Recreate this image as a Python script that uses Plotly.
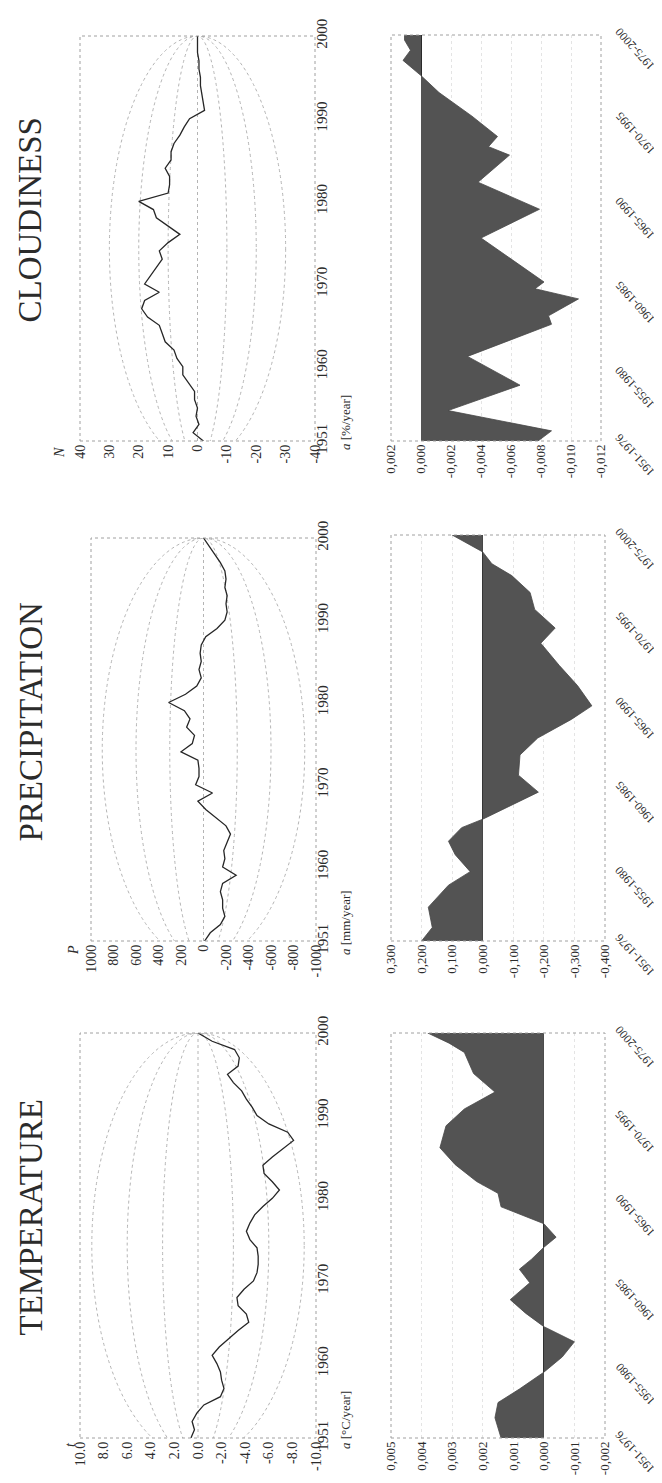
import plotly.graph_objects as go

W, H = 662, 1483

# ---------------- data ----------------
YEARS = list(range(1951, 2001))

TEMP_CUM = [0.6, 0.3, 0.5, 0.1, -0.5, -1.9, -2.2, -2.0, -1.9, -1.6,
            -1.2, -1.8, -2.6, -3.4, -4.3, -4.1, -3.4, -3.3, -3.9, -4.7,
            -5.0, -5.1, -5.1, -5.0, -4.4, -4.1, -4.4, -4.8, -5.5, -6.3,
            -6.9, -6.3, -5.6, -5.5, -6.3, -7.2, -8.1, -7.6, -6.0, -5.0,
            -4.6, -4.1, -3.7, -3.0, -2.5, -3.4, -3.5, -3.1, -1.2, 0.0]

PREC_CUM = [-10, -60, -150, -190, -170, -170, -150, -170, -290, -170,
            -190, -180, -210, -240, -200, -110, -20, 50, -80, 70,
            40, 40, 50, 200, 100, 80, 150, 120, 170, 310,
            160, 60, 20, 40, 20, 30, 20, -20, -120, -190,
            -210, -200, -210, -190, -200, -190, -150, -100, -50, 0]

CLOUD_CUM = [-2, 1.5, -0.5, 0.5, 0, 1, 1, 3, 5, 5,
             7, 8, 11, 12, 13, 17, 19, 18, 13, 18,
             16, 14, 12, 13, 10, 6, 10, 14, 15, 20,
             10, 9.5, 9.5, 11, 9, 9, 8, 6, 4.5, 2.7,
             -2.4, -2, -1.5, -1, -1, -0.5, -0.5, 0, 0, 0]

TEMP_TREND_X = [1951.0, 1952.2, 1953.1, 1953.9, 1954.9, 1955.8, 1956.7, 1957.6,
                1958.4, 1959.2, 1960.2, 1961.0, 1961.6, 1962.3, 1962.9, 1963.7,
                1964.7, 1965.5, 1966.2, 1967.2, 1968.2, 1969.5, 1970.5, 1971.5,
                1972.6, 1973.85, 1974.4, 1975.0]
TEMP_TREND = [0.0014, 0.0016, 0.0015, 0.0008, 0.0, -0.0006, -0.0010, 0.0,
              0.0006, 0.0011, 0.00046, 0.0008, 0.0004, 0.0, -0.0004, 0.0,
              0.0014, 0.0015, 0.0022, 0.0029, 0.0034, 0.0032, 0.0026, 0.0016,
              0.0023, 0.0026, 0.0031, 0.0038]

PREC_TREND_X = [1951.0, 1951.8, 1953.0, 1954.3, 1955.1, 1956.1, 1956.9, 1957.7,
                1958.2, 1959.0, 1959.8, 1960.8, 1962.0, 1963.0, 1964.1, 1964.9,
                1966.1, 1967.3, 1968.6, 1969.5, 1970.6, 1971.6, 1972.6, 1973.3,
                1974.0, 1975.0]
PREC_TREND = [0.20, 0.165, 0.178, 0.112, 0.041, 0.09, 0.112, 0.069,
              0.0, -0.09, -0.182, -0.117, -0.122, -0.18, -0.29, -0.357,
              -0.31, -0.25, -0.19, -0.237, -0.17, -0.155, -0.095, -0.03,
              0.0, 0.10]

CLOUD_TREND_X = [1951.0, 1951.6, 1952.8, 1954.3, 1956.0, 1957.9, 1958.4, 1959.4,
                 1960.0, 1960.4, 1963.0, 1964.7, 1966.3, 1967.9, 1968.4, 1969.0,
                 1970.2, 1971.6, 1972.6, 1973.5, 1974.1, 1974.7, 1975.0]
CLOUD_TREND = [-0.0078, -0.0087, -0.0018, -0.0066, -0.0031, -0.0087, -0.0085, -0.0105,
               -0.0076, -0.0082, -0.0040, -0.0079, -0.0038, -0.0059, -0.0045, -0.0051,
               -0.0034, -0.0012, 0.0, 0.0012, 0.0007, 0.0011, 0.0011]

ELL_T = [3, 6, 9]
ELL_P = [300, 600, 900]
ELL_N = [10, 20, 30]

YEAR_TICKS = [1951, 1960, 1970, 1980, 1990, 2000]
PERIOD_TICKS = [1951, 1955, 1960, 1965, 1970, 1975]
PERIOD_LABELS = ["1951-1976", "1955-1980", "1960-1985", "1965-1990", "1970-1995", "1975-2000"]

T_TICKS = [10, 8, 6, 4, 2, 0, -2, -4, -6, -8, -10]
T_LABELS = ["10.0", "8.0", "6.0", "4.0", "2.0", "0.0", "-2.0", "-4.0", "-6.0", "-8.0", "-10.0"]
P_TICKS = [1000, 800, 600, 400, 200, 0, -200, -400, -600, -800, -1000]
P_LABELS = ["1000", "800", "600", "400", "200", "0", "-200", "-400", "-600", "-800", "-1000"]
N_TICKS = [40, 30, 20, 10, 0, -10, -20, -30, -40]
N_LABELS = ["40", "30", "20", "10", "0", "-10", "-20", "-30", "-40"]

AT_TICKS = [0.005, 0.004, 0.003, 0.002, 0.001, 0.0, -0.001, -0.002]
AT_LABELS = ["0,005", "0,004", "0,003", "0,002", "0,001", "0,000", "-0,001", "-0,002"]
AP_TICKS = [0.3, 0.2, 0.1, 0.0, -0.1, -0.2, -0.3, -0.4]
AP_LABELS = ["0,300", "0,200", "0,100", "0,000", "-0,100", "-0,200", "-0,300", "-0,400"]
AN_TICKS = [0.002, 0.0, -0.002, -0.004, -0.006, -0.008, -0.010, -0.012]
AN_LABELS = ["0,002", "0,000", "-0,002", "-0,004", "-0,006", "-0,008", "-0,010", "-0,012"]

TITLES = ["CLOUDINESS", "PRECIPITATION", "TEMPERATURE"]

# ---------------- layout helpers ----------------
FONT = "Liberation Serif"
INK = "#2b2b2b"


def xd(x0, x1):
    return [x0 / W, x1 / W]


def yd(y0, y1):
    return [1 - y1 / H, 1 - y0 / H]


def py(y):
    return 1 - y / H


def ids(i):
    s = "" if i == 1 else str(i)
    return f"x{s}", f"y{s}", f"xaxis{s}", f"yaxis{s}"


fig = go.Figure()
layout = dict(
    width=W, height=H, margin=dict(l=0, r=0, t=0, b=0, autoexpand=False),
    paper_bgcolor="white", plot_bgcolor="white", showlegend=False,
    font=dict(family=FONT, color=INK),
)
shapes = []
annotations = []

# (frame box px, series, ellipses, ticks, labels, range, symbol, symbol centre px)
line_panels = [
    ((72, 307, 28, 433), CLOUD_CUM, ELL_N, N_TICKS, N_LABELS, 40, "N", (51, 445)),
    ((83, 308, 530, 933), PREC_CUM, ELL_P, P_TICKS, P_LABELS, 1000, "P", (65, 942)),
    ((72, 308, 1025, 1430), TEMP_CUM, ELL_T, T_TICKS, T_LABELS, 10, "t", (62, 1437)),
]
fill_panels = [
    ((383, 593, 27, 433), CLOUD_TREND_X, CLOUD_TREND, AN_TICKS, AN_LABELS, (0.002, -0.012), "<i>a</i> [%/year]"),
    ((383, 597, 527, 933), PREC_TREND_X, PREC_TREND, AP_TICKS, AP_LABELS, (0.3, -0.4), "<i>a</i> [mm/year]"),
    ((383, 597, 1025, 1430), TEMP_TREND_X, TEMP_TREND, AT_TICKS, AT_LABELS, (0.005, -0.002), "<i>a</i> [°C/year]"),
]

idx = 0
for k, (box, series, ells, ticks, labels, vmax, sym, spos) in enumerate(line_panels):
    idx += 1
    xa, ya, xk, yk = ids(idx)
    x0, x1, y0, y1 = box
    layout[xk] = dict(domain=xd(x0, x1), anchor=ya, range=[vmax, -vmax], automargin=False,
                      tickvals=ticks, ticktext=labels, tickangle=-90,
                      tickfont=dict(family=FONT, size=14, color=INK),
                      showgrid=False, zeroline=False, showline=False, ticks="")
    layout[yk] = dict(domain=yd(y0, y1), anchor=xa, range=[1951, 2000], side="right",
                      automargin=False, ticklabelstandoff=-4,
                      tickvals=YEAR_TICKS, ticktext=[str(v) for v in YEAR_TICKS], tickangle=-90,
                      tickfont=dict(family=FONT, size=15, color=INK),
                      showgrid=False, zeroline=False, showline=False, ticks="")
    shapes.append(dict(type="rect", xref=f"{xa} domain", yref=f"{ya} domain",
                       x0=0, x1=1, y0=0, y1=1, line=dict(color="#a0a0a0", width=1, dash="dot")))
    for a in ells:
        shapes.append(dict(type="circle", xref=xa, yref=ya, x0=-a, x1=a, y0=1948.5, y1=2000,
                           line=dict(color="#b4b4b4", width=1, dash="dot"), layer="below"))
    shapes.append(dict(type="line", xref=xa, yref=f"{ya} domain", x0=0, x1=0, y0=0, y1=1,
                       line=dict(color="#b4b4b4", width=1, dash="dot"), layer="below"))
    fig.add_trace(go.Scatter(x=series, y=YEARS, mode="lines", xaxis=xa, yaxis=ya,
                             line=dict(color="#262626", width=1.3), hoverinfo="skip"))
    annotations.append(dict(text=TITLES[k], xref="paper", yref="paper", x=22 / W,
                            y=py((y0 + y1) / 2 - 18), showarrow=False, textangle=-90,
                            font=dict(family=FONT, size=33, color=INK),
                            xanchor="center", yanchor="middle"))
    annotations.append(dict(text=f"<i>{sym}</i>", xref="paper", yref="paper", x=spos[0] / W,
                            y=py(spos[1]), showarrow=False, textangle=-90,
                            font=dict(family=FONT, size=14, color=INK),
                            xanchor="center", yanchor="middle"))

for k, (box, xs, vals, ticks, labels, rng, unit) in enumerate(fill_panels):
    idx += 1
    xa, ya, xk, yk = ids(idx)
    x0, x1, y0, y1 = box
    layout[xk] = dict(domain=xd(x0, x1), anchor=ya, range=list(rng), automargin=False,
                      tickvals=ticks, ticktext=labels, tickangle=-90,
                      tickfont=dict(family=FONT, size=13, color=INK),
                      showgrid=True, gridcolor="#e4e4e4", griddash="dot", gridwidth=1,
                      zeroline=True, zerolinecolor="#2a2a2a", zerolinewidth=1.2,
                      showline=False, ticks="")
    layout[yk] = dict(domain=yd(y0, y1), anchor=xa, range=[1951, 1975], side="right",
                      automargin=False, showticklabels=False,
                      showgrid=False, zeroline=False, showline=False, ticks="")
    shapes.append(dict(type="rect", xref=f"{xa} domain", yref=f"{ya} domain",
                       x0=0, x1=1, y0=0, y1=1, line=dict(color="#a0a0a0", width=1, dash="dot")))
    fig.add_trace(go.Scatter(x=vals, y=xs, mode="lines", fill="tozerox", xaxis=xa, yaxis=ya,
                             fillcolor="#535353", line=dict(color="#474747", width=0.8),
                             hoverinfo="skip"))
    annotations.append(dict(text=unit, xref="paper", yref="paper", x=(x0 - 46) / W,
                            y=py(y1 - 18), showarrow=False, textangle=-90,
                            font=dict(family=FONT, size=13, color=INK),
                            xanchor="center", yanchor="middle"))
    for tv, tt in zip(PERIOD_TICKS, PERIOD_LABELS):
        annotations.append(dict(text=tt, xref="paper", yref=ya, x=627 / W, y=tv,
                                yshift=-14, showarrow=False, textangle=-132,
                                font=dict(family=FONT, size=12, color=INK),
                                xanchor="center", yanchor="middle"))

layout["shapes"] = shapes
layout["annotations"] = annotations
fig.update_layout(**layout)
fig.write_html("out.html")
